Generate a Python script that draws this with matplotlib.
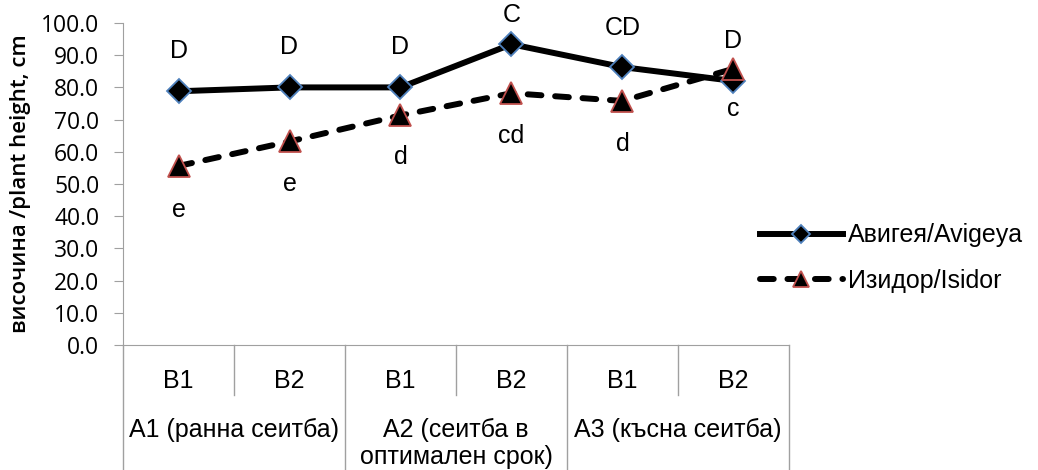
import numpy as np
import matplotlib
matplotlib.use('Agg')
import matplotlib.pyplot as plt
from matplotlib.transforms import blended_transform_factory

# ============================================================
#  data
# ============================================================
sub_labels = ['B1', 'B2', 'B1', 'B2', 'B1', 'B2']
group_labels = ['A1 (ранна сеитба)', 'A2 (сеитба в\nоптимален срок)', 'A3 (късна сеитба)']

avigeya = [78.8, 80.0, 80.0, 93.4, 86.3, 82.0]
isidor = [55.6, 63.2, 71.3, 78.2, 75.8, 85.8]

avigeya_letters = ['D', 'D', 'D', 'C', 'CD', 'D']
isidor_letters = ['e', 'e', 'd', 'cd', 'd', 'c']

# label offsets in pixels (above / below the markers)
up_off = [40, 40, 40, 29, 39, 40]
down_off = [44, 43, 42, 43, 43, 40]

plt.rcParams['font.family'] = ['Liberation Sans', 'DejaVu Sans']

fig = plt.figure(figsize=(10.38, 4.70), dpi=100)
ax = fig.add_axes([123 / 1038, 1 - 345 / 470, (789 - 123) / 1038, (345 - 23) / 470])

x = np.arange(len(sub_labels))

ax.plot(x, avigeya, '-', color='black', lw=4.3, marker='D', ms=12.5,
        mfc='black', mec='#4f81bd', mew=1.3, label='Авигея/Avigeya', zorder=3)
ax.plot(x, isidor, '--', color='black', lw=4.3, dashes=(2.3, 2.3), dash_capstyle='round',
        marker='^', ms=15.5, mfc='black', mec='#c0504d', mew=1.3,
        label='Изидор/Isidor', zorder=3)

for i in range(len(x)):
    ax.annotate(avigeya_letters[i], (x[i], avigeya[i]), xytext=(0, up_off[i]),
                textcoords='offset pixels', ha='center', va='center', fontsize=18)
    ax.annotate(isidor_letters[i], (x[i], isidor[i]), xytext=(0, -down_off[i]),
                textcoords='offset pixels', ha='center', va='center', fontsize=18)

ax.set_xlim(-0.5, 5.5)
ax.set_ylim(0, 100)
ax.set_yticks(np.arange(0, 101, 10))
ax.set_yticklabels([f'{v:.1f}' for v in np.arange(0, 101, 10)],
                   fontsize=16.5, family='Open Sans')
ax.tick_params(axis='y', length=6.5, color='#a0a0a0', pad=10.5)
ax.set_ylabel('височина /plant height, cm', fontsize=16, family='Open Sans',
              fontweight='semibold', labelpad=7)

for s in ['top', 'right']:
    ax.spines[s].set_visible(False)
for s in ['left', 'bottom']:
    ax.spines[s].set_color('#a0a0a0')

# category axis (two-level)
ax.set_xticks(x)
ax.set_xticklabels([])
ax.tick_params(axis='x', length=0)

ax_h = 345 - 23
trans = blended_transform_factory(ax.transData, ax.transAxes)
for i, lab in enumerate(sub_labels):
    ax.text(x[i], -34 / ax_h, lab, transform=trans, ha='center', va='center_baseline',
            fontsize=18, clip_on=False)
for b in [0.5, 2.5, 4.5]:
    ax.plot([b, b], [0, -50 / ax_h], color='#a0a0a0', lw=1, transform=trans, clip_on=False)
for b in [-0.5, 1.5, 3.5, 5.5]:
    ax.plot([b, b], [0, -130 / ax_h], color='#a0a0a0', lw=1, transform=trans, clip_on=False)
for g, lab in enumerate(group_labels):
    ax.text(2 * g + 0.5, -73 / ax_h, lab, transform=trans, ha='center', va='top',
            fontsize=18, linespacing=1.15, clip_on=False)

fig.legend(loc='center left', bbox_to_anchor=(760 / 1038, 1 - 258 / 470), frameon=False,
           fontsize=18, handlelength=3.3, handletextpad=0.2, labelspacing=0.85,
           markerscale=0.75, borderaxespad=0, borderpad=0)

fig.savefig('out.png', dpi=100)
